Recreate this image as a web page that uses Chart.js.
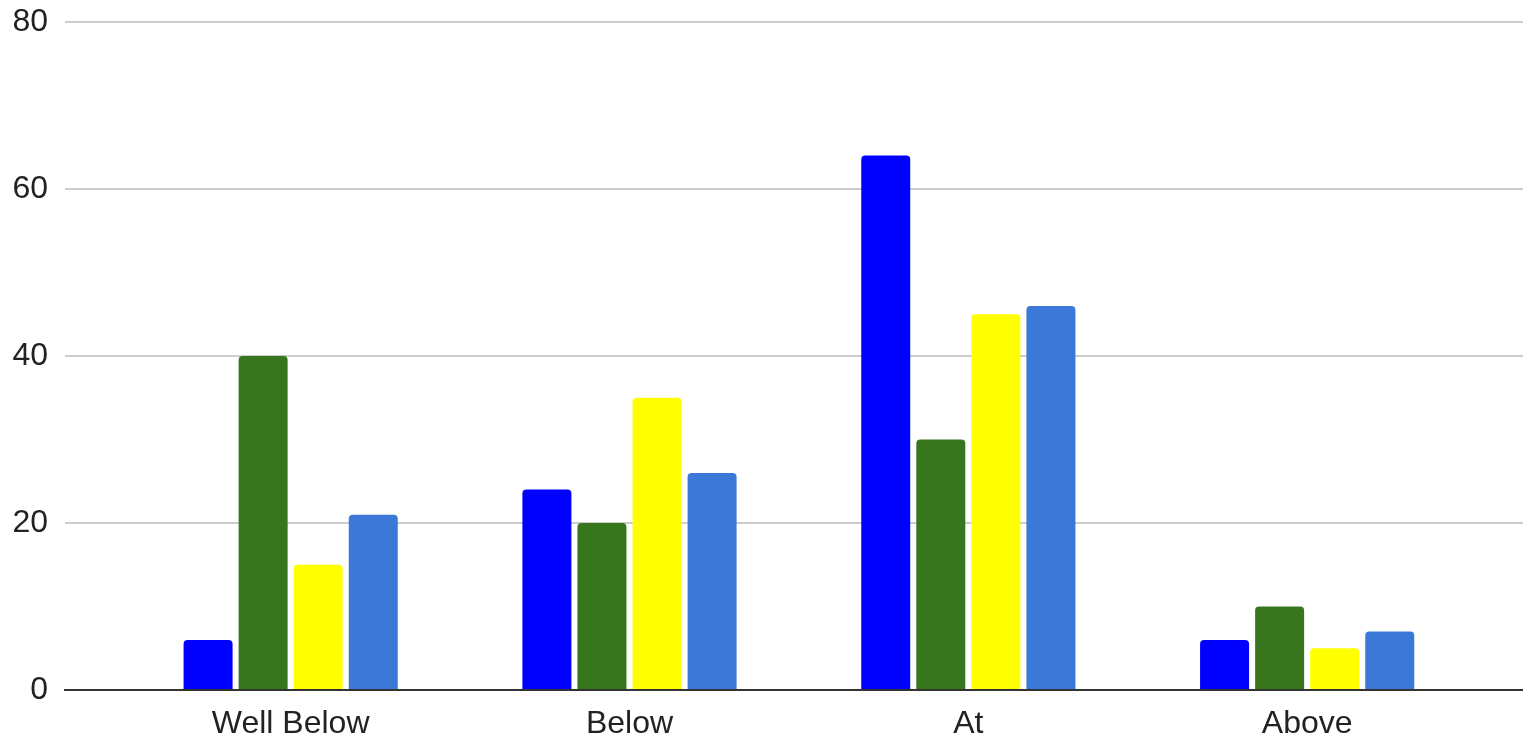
<!DOCTYPE html>
<html>
<head>
<meta charset="utf-8">
<script src="https://cdn.jsdelivr.net/npm/chart.js@4"></script>
<style>
    html, body { margin: 0; padding: 0; background: #fff; }
    #box { width: 1523px; height: 740px; }
</style>
</head>
<body>
<div id="box"><canvas id="chart"></canvas></div>
<script>
// categories and series
const categories = ['Well Below', 'Below', 'At', 'Above'];
const series1 = [6, 24, 64, 6];
const series2 = [40, 20, 30, 10];
const series3 = [15, 35, 45, 5];
const series4 = [21, 26, 46, 7];
const yTicks = [0, 20, 40, 60, 80];

const colors = ['#0000ff', '#38761d', '#ffff00', '#3c78d8'];

// bars sit on a linear x scale so the grid can run past the outer groups
const toPoints = arr => arr.map((v, i) => ({ x: i, y: v }));

const datasets = [series1, series2, series3, series4].map((s, i) => ({
    label: 'Series ' + (i + 1),
    data: toPoints(s),
    backgroundColor: colors[i],
    borderWidth: 0,
    borderRadius: 4,
    categoryPercentage: 0.65,
    barPercentage: 0.89
}));

Chart.defaults.font.family = '"Liberation Sans", Arial, sans-serif';
Chart.defaults.color = '#222';

new Chart(document.getElementById('chart'), {
    type: 'bar',
    data: { datasets: datasets },
    options: {
        responsive: true,
        maintainAspectRatio: false,
        animation: false,
        layout: { padding: { left: 12, top: 22, right: 0, bottom: 0 } },
        plugins: {
            legend: { display: false },
            tooltip: { enabled: false }
        },
        scales: {
            x: {
                type: 'linear',
                offset: false,
                min: -0.666,
                max: 3.637,
                // only one tick per category
                afterBuildTicks: axis => { axis.ticks = categories.map((c, i) => ({ value: i })); },
                afterFit: axis => { axis.height = 50; },
                grid: { display: false, drawTicks: false },
                border: { display: true, color: '#333', width: 2 },
                ticks: {
                    autoSkip: false,
                    maxRotation: 0,
                    padding: 15,
                    font: { size: 32 },
                    callback: v => categories[v] !== undefined ? categories[v] : ''
                }
            },
            y: {
                min: 0,
                max: 80,
                afterBuildTicks: axis => { axis.ticks = yTicks.map(v => ({ value: v })); },
                afterFit: axis => { axis.width = 53; },
                grid: { color: '#cccccc', lineWidth: 2, drawTicks: false },
                border: { display: false },
                ticks: {
                    padding: 17,
                    font: { size: 32, lineHeight: 0.2 }
                }
            }
        }
    }
});
</script>
</body>
</html>
